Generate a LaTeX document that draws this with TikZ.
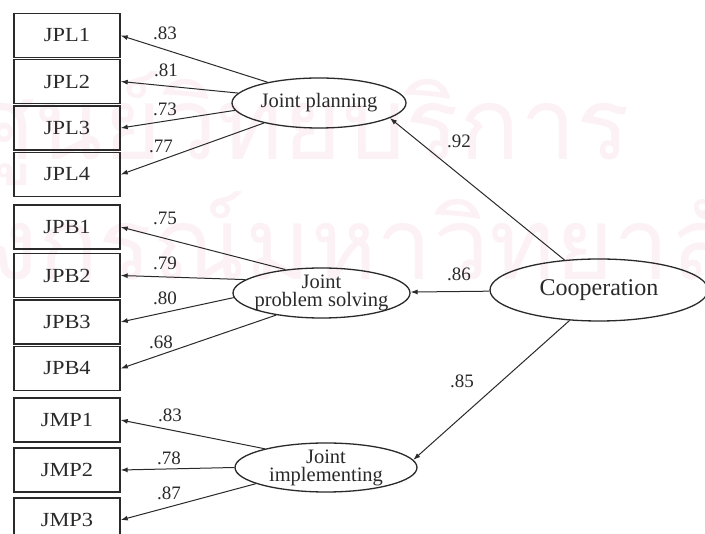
\documentclass[tikz,border=0pt]{standalone}
\usepackage{fontspec}
\setmainfont{Liberation Serif}
\newfontfamily\boxfont[FakeStretch=1.12]{Liberation Serif}
\newfontfamily\thaifont[Script=Thai]{Loma}
\usetikzlibrary{shapes.geometric,arrows.meta}
\definecolor{ink}{HTML}{2A2A2A}
\definecolor{wmark}{RGB}{252,242,246}

\begin{document}
\begin{tikzpicture}[x=1pt,y=-1pt,
  indicator/.style={draw=ink, line width=1.4pt, minimum width=106pt,
    minimum height=44pt, inner sep=0pt, text=ink,
    font=\boxfont\fontsize{20}{24}\selectfont},
  latent/.style={ellipse, draw=ink, line width=1.3pt, inner sep=-14pt,
    align=center, text=ink, font=\fontsize{20.5}{18}\selectfont},
  load/.style={draw=ink, line width=1pt, -{Latex[length=7pt,width=5pt]}},
  coef/.style={font=\fontsize{19}{22}\selectfont, text=ink, inner sep=0pt},
  wmtext/.style={anchor=base east, text=wmark, inner sep=0pt,
    font=\thaifont\fontsize{100}{100}\selectfont}
]
\useasboundingbox (0,0) rectangle (705,534);
\fill[white] (0,0) rectangle (705,534);
\clip (0,0) rectangle (705,534);

% faint background lettering
\node[wmtext] (wm1) at (630,160) {ศูนย์วิทยบริการ};
\node[wmtext] (wm2) at (790,280) {จุฬาลงกรณ์มหาวิทยาลัย};

% observed indicators
\node[indicator] (jpl1) at (67,35.5)  {JPL1};
\node[indicator] (jpl2) at (67,81.5)  {JPL2};
\node[indicator] (jpl3) at (67,128)   {JPL3};
\node[indicator] (jpl4) at (67,174.5) {JPL4};
\node[indicator] (jpb1) at (67,227)   {JPB1};
\node[indicator] (jpb2) at (67,275.5) {JPB2};
\node[indicator] (jpb3) at (67,322)   {JPB3};
\node[indicator] (jpb4) at (67,368.5) {JPB4};
\node[indicator] (jmp1) at (67,420)   {JMP1};
\node[indicator] (jmp2) at (67,470)   {JMP2};
\node[indicator] (jmp3) at (67,520)   {JMP3};

% latent constructs
\node[latent, minimum width=174pt, minimum height=50pt] (jp)  at (319,103)   {Joint planning};
\node[latent, minimum width=177pt, minimum height=50pt] (jps) at (321.5,293) {Joint\\problem solving};
\node[latent, minimum width=182pt, minimum height=49pt] (ji)  at (326,467.5) {Joint\\implementing};
\node[latent, minimum width=218pt, minimum height=62pt,
  font=\fontsize{24}{26}\selectfont] (coop) at (599,290) {Cooperation};

% second-order loadings
\draw[load] (coop.139) -- (jp.348);
\draw[load] (coop) -- (jps);
\draw[load] (coop.226) -- (ji.5);

% first-order loadings
\draw[load] (jp.158) -- (jpl1.east);
\draw[load] (jp.173) -- (jpl2.east);
\draw[load] (jp.185) -- (jpl3.east);
\draw[load] (jp.200) -- (jpl4.east);
\draw[load] (jps.147) -- (jpb1.east);
\draw[load] (jps.170) -- (jpb2.east);
\draw[load] (jps.183) -- (jpb3.east);
\draw[load] (jps.206) -- (jpb4.east);
\draw[load] (ji.163) -- (jmp1.east);
\draw[load] (ji.180) -- (jmp2.east);
\draw[load] (ji.193) -- (jmp3.east);

% coefficients
\node[coef] (c1)  at (165,33)  {.83};
\node[coef] (c2)  at (166,70)  {.81};
\node[coef] (c3)  at (165,109) {.73};
\node[coef] (c4)  at (161,146) {.77};
\node[coef] (c5)  at (165,218) {.75};
\node[coef] (c6)  at (165,263) {.79};
\node[coef] (c7)  at (165,298) {.80};
\node[coef] (c8)  at (161,342) {.68};
\node[coef] (c9)  at (170,415) {.83};
\node[coef] (c10) at (169,458) {.78};
\node[coef] (c11) at (169,493) {.87};
\node[coef] (c12) at (459,141) {.92};
\node[coef] (c13) at (459,274) {.86};
\node[coef] (c14) at (462,381) {.85};
\end{tikzpicture}
\end{document}
